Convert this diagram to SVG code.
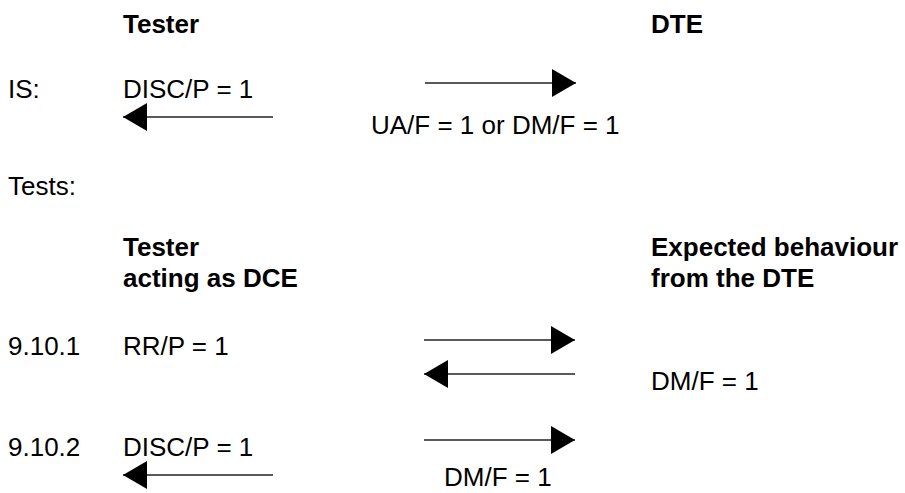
<svg xmlns="http://www.w3.org/2000/svg" width="905" height="493" viewBox="0 0 905 493">
<style>
text{font-family:"Liberation Sans",Arial,sans-serif;font-size:26px;fill:#000}
.b{font-weight:bold}
.ln{stroke:#222;stroke-width:1.4;fill:none}
</style>
<defs>
<marker id="ah" markerUnits="userSpaceOnUse" markerWidth="24" markerHeight="28" refX="24" refY="14" orient="auto">
<path d="M0,0 L24,14 L0,28 Z" fill="#000"/>
</marker>
</defs>
<rect width="905" height="493" fill="#fff"/>
<g id="headers">
<text class="b" x="123" y="33">Tester</text>
<text class="b" x="651" y="33">DTE</text>
<text x="8" y="195">Tests:</text>
<text class="b" x="123" y="256">Tester</text>
<text class="b" x="123" y="287">acting as DCE</text>
<text class="b" x="651" y="256">Expected behaviour</text>
<text class="b" x="651" y="287">from the DTE</text>
</g>
<g id="is">
<text x="8" y="98">IS:</text>
<text x="123" y="98">DISC/P = 1</text>
<text x="371" y="134">UA/F = 1 or DM/F = 1</text>
</g>
<g id="t9101">
<text x="8" y="355">9.10.1</text>
<text x="123" y="355">RR/P = 1</text>
<text x="651" y="390">DM/F = 1</text>
</g>
<g id="t9102">
<text x="8" y="456">9.10.2</text>
<text x="123" y="456">DISC/P = 1</text>
<text x="444" y="486">DM/F = 1</text>
</g>
<g id="connectors">
<line class="ln" x1="425" y1="83" x2="576" y2="83" marker-end="url(#ah)"/>
<line class="ln" x1="273" y1="117" x2="123" y2="117" marker-end="url(#ah)"/>
<line class="ln" x1="424" y1="340" x2="575" y2="340" marker-end="url(#ah)"/>
<line class="ln" x1="575" y1="374" x2="424" y2="374" marker-end="url(#ah)"/>
<line class="ln" x1="424" y1="440" x2="575" y2="440" marker-end="url(#ah)"/>
<line class="ln" x1="273" y1="475" x2="123" y2="475" marker-end="url(#ah)"/>
</g>
</svg>
